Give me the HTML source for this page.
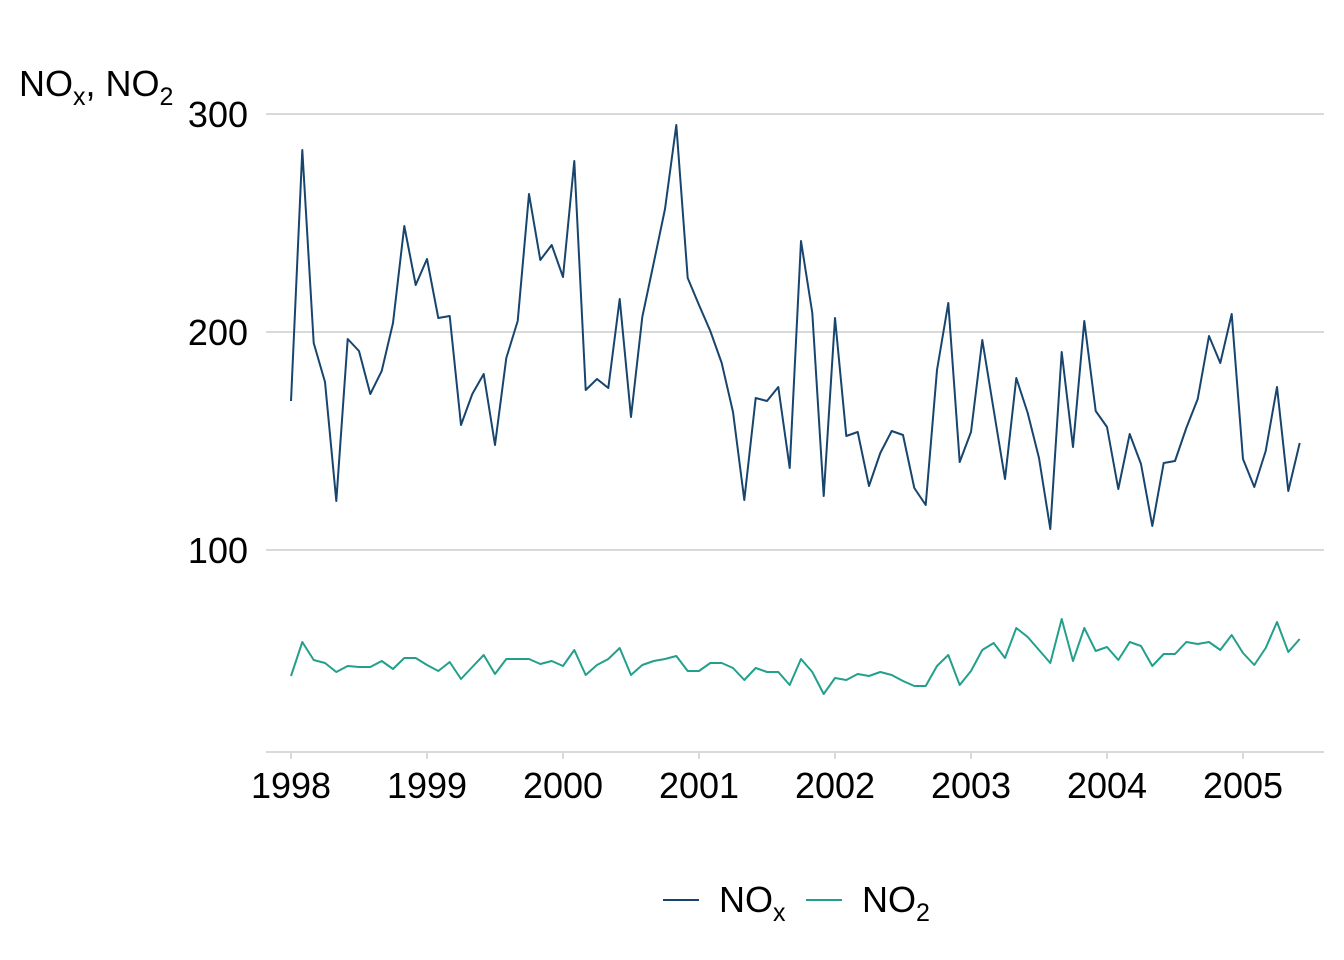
<!DOCTYPE html>
<html><head><meta charset="utf-8"><style>
html,body{margin:0;padding:0;background:#fff;}
svg{display:block;font-family:"Liberation Sans",Arial,sans-serif;}
</style></head><body>
<svg id="s" width="1344" height="960" viewBox="0 0 1344 960" xmlns="http://www.w3.org/2000/svg">
<rect width="1344" height="960" fill="#fff"/>
<g stroke="#d9d9d9" stroke-width="2">
<line x1="266" y1="114" x2="1324" y2="114"/>
<line x1="266" y1="332" x2="1324" y2="332"/>
<line x1="266" y1="550" x2="1324" y2="550"/>
</g>
<line x1="266" y1="752" x2="1324" y2="752" stroke="#d9d9d9" stroke-width="2"/>
<g stroke="#d9d9d9" stroke-width="2" id="ticks"></g>
<g font-size="36" fill="#000" text-anchor="end">
<text x="248" y="127">300</text>
<text x="248" y="345">200</text>
<text x="248" y="563">100</text>
</g>
<g font-size="36" fill="#000" text-anchor="middle" id="xl"></g>
<text x="19" y="96" font-size="36" fill="#000">NO<tspan font-size="25" dy="9">x</tspan><tspan dy="-9">, NO</tspan><tspan font-size="25" dy="9">2</tspan></text>
<polyline id="nox" fill="none" stroke="#17456e" stroke-width="2" stroke-linejoin="round"/>
<polyline id="no2" fill="none" stroke="#22a08b" stroke-width="2" stroke-linejoin="round"/>
<line x1="663" y1="900" x2="699" y2="900" stroke="#17456e" stroke-width="2"/>
<text x="719" y="912" font-size="36" fill="#000">NO<tspan font-size="25" dy="9">x</tspan></text>
<line x1="806" y1="900" x2="842" y2="900" stroke="#22a08b" stroke-width="2"/>
<text x="862" y="912" font-size="36" fill="#000">NO<tspan font-size="25" dy="9">2</tspan></text>
</svg>
<script>
var nox=[401,150,343,382,501,339,351,394,371,323,226,285,259,318,316,425,394,374,445,358,321,194,260,245,277,161,390,379,388,299,417,317,263,209,125,278,305,331,363,412,500,398,401,387,468,241,313,496,318,436,432,486,453,431,435,488,505,370,303,462,432,340,410,479,378,413,458,529,352,447,321,411,427,489,434,464,526,463,461,428,399,336,363,314,459,487,451,387,491,443];
var no2=[676,642,660,663,672,666,667,667,661,669,658,658,665,671,662,679,667,655,674,659,659,659,664,661,666,650,675,665,659,648,675,665,661,659,656,671,671,663,663,668,680,668,672,672,685,659,672,694,678,680,674,676,672,675,681,686,686,666,655,685,671,650,643,658,628,637,650,663,619,661,628,651,647,660,642,646,666,654,654,642,644,642,650,635,653,665,648,622,652,639];
function pts(a){return a.map(function(y,i){return (291+i*(1243-291)/84).toFixed(1)+","+y}).join(" ");}
document.getElementById("nox").setAttribute("points",pts(nox));
document.getElementById("no2").setAttribute("points",pts(no2));
var t="",l="";
for(var k=0;k<8;k++){var x=291+k*136;t+='<line x1="'+x+'" y1="752" x2="'+x+'" y2="759"/>';l+='<text x="'+x+'" y="798">'+(1998+k)+'</text>';}
document.getElementById("ticks").innerHTML=t;
document.getElementById("xl").innerHTML=l;
</script>
</body></html>
